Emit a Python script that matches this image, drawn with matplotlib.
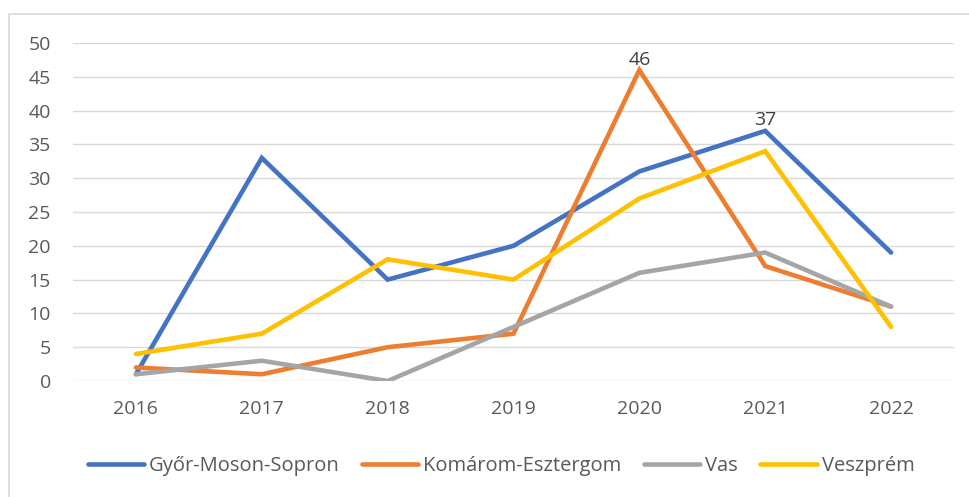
import matplotlib
matplotlib.use("Agg")
import matplotlib.pyplot as plt
from matplotlib.patches import Rectangle

years = ["2016", "2017", "2018", "2019", "2020", "2021", "2022"]
gyor = [1, 33, 15, 20, 31, 37, 19]
komarom = [2, 1, 5, 7, 46, 17, 11]
vas = [1, 3, 0, 8, 16, 19, 11]
veszprem = [4, 7, 18, 15, 27, 34, 8]

series = [
    ("Győr-Moson-Sopron", gyor, "#4472C4"),
    ("Komárom-Esztergom", komarom, "#ED7D31"),
    ("Vas", vas, "#A5A5A5"),
    ("Veszprém", veszprem, "#FFC000"),
]

plt.rcParams["font.family"] = ["Open Sans", "DejaVu Sans"]
text_color = "#595959"

fig = plt.figure(figsize=(9.69, 4.97), dpi=100)
fig.patches.append(Rectangle((9 / 969, -0.1), 1.1, 1.1 - 14 / 497,
                             transform=fig.transFigure, fill=False,
                             edgecolor="#D9D9D9", linewidth=1.2))
ax = fig.add_axes([73 / 969, 1 - 381 / 497, (954 - 73) / 969, (381 - 43) / 497])

x = list(range(len(years)))
for name, vals, col in series:
    ax.plot(x, vals, color=col, linewidth=3.3, label=name, solid_capstyle="round",
            solid_joinstyle="miter")

# data labels on the two peaks
ax.annotate(str(komarom[4]), (4, komarom[4]), xytext=(0, 1), textcoords="offset points",
            ha="center", va="bottom", fontsize=14, color="#404040")
ax.annotate(str(gyor[5]), (5, gyor[5]), xytext=(0, 1), textcoords="offset points",
            ha="center", va="bottom", fontsize=14, color="#404040")

ax.set_xlim(-0.5, len(years) - 0.5)
ax.set_ylim(0, 50)
ax.set_yticks(range(0, 51, 5))
ax.set_xticks(x)
ax.set_xticklabels(years)
ax.grid(axis="y", color="#D9D9D9", linewidth=1)
ax.set_axisbelow(True)
for s in ax.spines.values():
    s.set_visible(False)
ax.tick_params(length=0, labelsize=14, colors=text_color)
ax.tick_params(axis="y", pad=16)
ax.tick_params(axis="x", pad=14)

fig.legend(loc="center", bbox_to_anchor=(0.517, 1 - 466 / 497), ncol=4, frameon=False,
           fontsize=14.5, labelcolor=text_color, handlelength=2.8, handletextpad=0.25,
           columnspacing=1.1)

fig.savefig("out.png", dpi=100)
